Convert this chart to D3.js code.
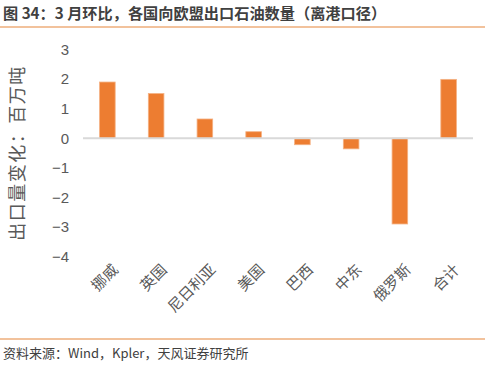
<!DOCTYPE html>
<html>
<head>
<meta charset="utf-8">
<script src="https://cdn.jsdelivr.net/npm/d3@7"></script>
<style>
  body { margin: 0; background: #fff; }
  text { font-family: "Noto Sans CJK SC", "Liberation Sans", sans-serif; }
</style>
</head>
<body>
<div id="chart"></div>
<script>
// Chart data
const countries = ["挪威", "英国", "尼日利亚", "美国", "巴西", "中东", "俄罗斯", "合计"];
const changes = [1.90, 1.51, 0.65, 0.22, -0.22, -0.36, -2.90, 1.99];
const yTicks = [3, 2, 1, 0, -1, -2, -3, -4];

const width = 485, height = 365;

const svg = d3.select("#chart")
  .append("svg")
  .attr("width", width)
  .attr("height", height);

// Header
svg.append("text")
  .attr("x", 3)
  .attr("y", 19)
  .style("font-size", "15.2px")
  .style("font-weight", "bold")
  .style("fill", "#404040")
  .text("图 34：3 月环比，各国向欧盟出口石油数量（离港口径）");

svg.append("line")
  .attr("x1", 0).attr("x2", width)
  .attr("y1", 27).attr("y2", 27)
  .style("stroke", "#E5853A")
  .style("stroke-width", 1.2);

// Scales
const x = d3.scaleBand()
  .domain(countries)
  .range([83, 473])
  .paddingInner(0.68)
  .paddingOuter(0.34);

const y = d3.scaleLinear()
  .domain([-4, 3])
  .range([256.5, 49.5]);

// Y axis labels
const yAxis = d3.axisLeft(y)
  .tickValues(yTicks)
  .tickSize(0)
  .tickPadding(0)
  .tickFormat(d3.format("d"));

const yg = svg.append("g")
  .attr("transform", "translate(69,0)")
  .call(yAxis);
yg.select(".domain").remove();
yg.selectAll("text")
  .style("font-family", "'Liberation Sans', Arial, sans-serif")
  .style("font-size", "15px")
  .style("fill", "#595959");

// Y axis title
svg.append("text")
  .attr("transform", "translate(24,153) rotate(-90)")
  .attr("text-anchor", "middle")
  .style("font-size", "18px")
  .style("letter-spacing", "1.5px")
  .style("fill", "#595959")
  .text("出口量变化：百万吨");

// Bars
svg.selectAll(".bar")
  .data(countries)
  .enter().append("rect")
  .attr("class", "bar")
  .attr("x", d => x(d))
  .attr("width", x.bandwidth())
  .attr("y", (d, i) => y(Math.max(0, changes[i])))
  .attr("height", (d, i) => Math.abs(y(changes[i]) - y(0)))
  .style("fill", "#ED7D31")
  .style("stroke", "#F4B183")
  .style("stroke-width", 0.8);

// Zero line
svg.append("line")
  .attr("x1", 83).attr("x2", 473)
  .attr("y1", y(0)).attr("y2", y(0))
  .style("stroke", "#D9D9D9")
  .style("stroke-width", 2);

// X axis labels, rotated
const xAxis = d3.axisBottom(x).tickSize(0).tickPadding(0);
const xg = svg.append("g")
  .attr("transform", "translate(0,267)")
  .call(xAxis);
xg.select(".domain").remove();
xg.selectAll("text")
  .attr("text-anchor", "end")
  .attr("dy", "0.35em")
  .attr("transform", "translate(8,0) rotate(-45)")
  .style("font-family", "'Noto Sans CJK SC', sans-serif")
  .style("font-size", "15px")
  .style("fill", "#595959");

// Footer
svg.append("line")
  .attr("x1", 0).attr("x2", width)
  .attr("y1", 339).attr("y2", 339)
  .style("stroke", "#E5853A")
  .style("stroke-width", 1.2);

svg.append("text")
  .attr("x", 3)
  .attr("y", 358)
  .style("font-size", "13px")
  .style("fill", "#404040")
  .text("资料来源：Wind，Kpler，天风证券研究所");
</script>
</body>
</html>
